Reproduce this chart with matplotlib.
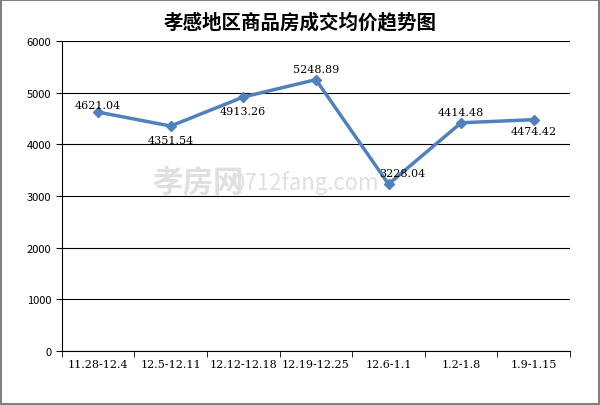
import numpy as np
import matplotlib.pyplot as plt

plt.rcParams['font.family'] = ['Noto Sans CJK SC', 'DejaVu Sans']

categories = ['11.28-12.4', '12.5-12.11', '12.12-12.18', '12.19-12.25', '12.6-1.1', '1.2-1.8', '1.9-1.15']
prices = [4621.04, 4351.54, 4913.26, 5248.89, 3228.04, 4414.48, 4474.42]
label_offsets = [(0, 5), (0, -10), (0, -10), (0, 8), (10, 8), (0, 8), (0, -8)]

fig = plt.figure(figsize=(6, 4.06), dpi=100)
fig.patch.set_edgecolor('#808080')
fig.patch.set_linewidth(1.5)
ax = fig.add_axes([0.103, 0.133, 0.847, 0.764])
ax.patch.set_alpha(0)

x = np.arange(len(categories))
ax.set_xlim(-0.5, len(categories) - 0.5)
ax.set_ylim(0, 6000)
ax.set_yticks(range(0, 6001, 1000))
ax.yaxis.grid(True, color='black', lw=0.8)
ax.set_axisbelow(True)
ax.plot(x, prices, color='#4F81BD', lw=2.5, marker='D', ms=5, zorder=3)

for xi, v, (dx, dy) in zip(x, prices, label_offsets):
    ax.annotate(f'{v:.2f}', (xi, v), xytext=(dx, dy), textcoords='offset points',
                ha='center', va='center', fontsize=8, family='DejaVu Serif', zorder=4)

ax.set_xticks(x)
ax.set_xticklabels(categories, fontsize=8, family='DejaVu Serif')
ax.set_xticks(np.arange(-0.5, len(categories)), minor=True)
ax.tick_params(axis='x', which='major', length=0, pad=6)
ax.tick_params(axis='x', which='minor', length=4)
ax.tick_params(axis='y', labelsize=8, length=4)
for s in ['top', 'right']:
    ax.spines[s].set_visible(False)

fig.text(0.5, 0.945, '孝感地区商品房成交均价趋势图', ha='center', va='center',
         fontsize=14, weight='bold')
fig.text(0.33, 0.55, '孝房网', fontsize=22, color='#e0e0e0', ha='center', va='center', weight='bold', zorder=-1)
fig.text(0.51, 0.55, '0712fang.com', fontsize=16, color='#e0e0e0', ha='center', va='center', zorder=-1)

fig.savefig('out.png', dpi=100)
